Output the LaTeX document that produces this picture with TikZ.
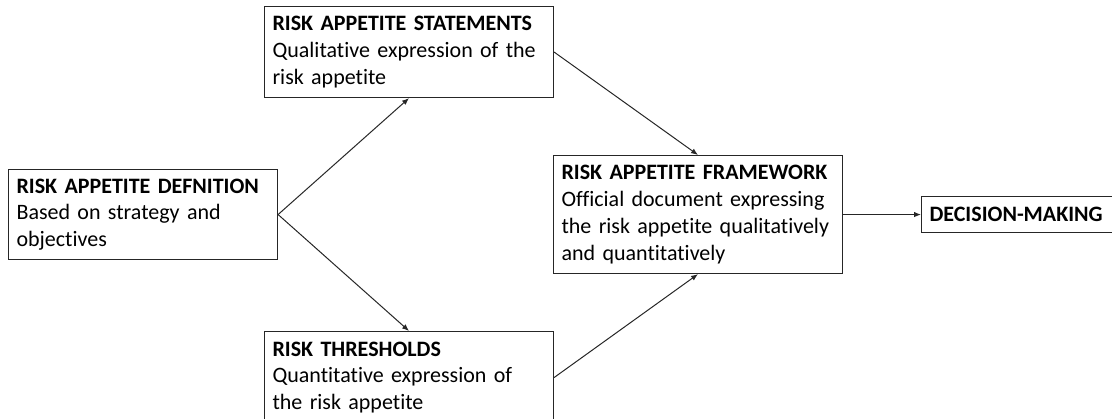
\documentclass[tikz,border=0pt]{standalone}
\usepackage{fontspec}
\setmainfont{Carlito}[RawFeature=-liga]
\usetikzlibrary{arrows.meta}
\begin{document}
\begin{tikzpicture}[x=1pt,y=-1pt,
  box/.style={draw=black!85, line width=1.1pt, anchor=north west, align=left,
    inner xsep=8pt, inner ysep=0pt, font=\fontsize{22}{26.8}\selectfont},
  link/.style={draw=black!85, line width=1pt, -{Latex[length=7pt,width=5.5pt]}}]
\useasboundingbox (0,0) rectangle (1112,419);

% boxes
\node[box, minimum width=269, minimum height=90, text width=253] (def) at (8,169)
  {\textbf{RISK APPETITE DEFNITION}\\Based on strategy and\\objectives};
\node[box, minimum width=289, minimum height=91, text width=273] (stm) at (264,6)
  {\textbf{RISK APPETITE STATEMENTS}\\Qualitative expression of the\\risk appetite};
\node[box, minimum width=289, minimum height=92, text width=273] (thr) at (264,331)
  {\textbf{RISK THRESHOLDS}\\Quantitative expression of\\the risk appetite};
\node[box, minimum width=289, minimum height=118, text width=273] (fw) at (553,155)
  {\textbf{RISK APPETITE FRAMEWORK}\\Official document expressing\\the risk appetite qualitatively\\and quantitatively};
\node[box, minimum width=196, minimum height=36, text width=180] (dec) at (921,196)
  {\textbf{DECISION-MAKING}};

% connectors
\draw[link] (def.east) -- (stm.south);
\draw[link] (def.east) -- (thr.north);
\draw[link] (stm.east) -- (fw.north);
\draw[link] (thr.east) -- (fw.south);
\draw[link] (fw.east) -- (dec.west);
\end{tikzpicture}
\end{document}
